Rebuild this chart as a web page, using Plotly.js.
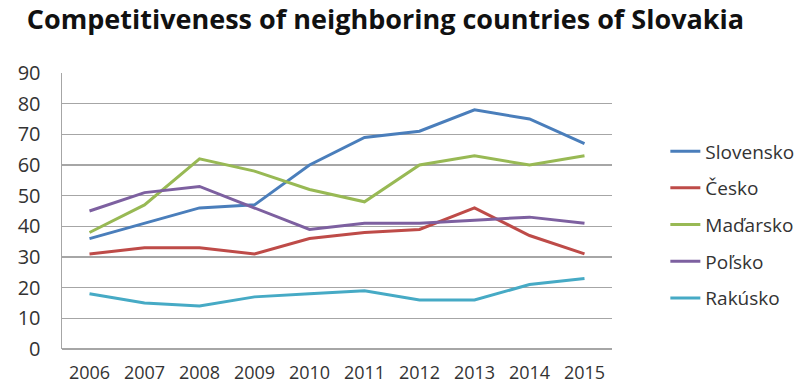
<!DOCTYPE html>
<html>
<head>
<meta charset="utf-8">
<script src="https://cdn.plot.ly/plotly-3.0.1.min.js"></script>
<style>html,body{margin:0;padding:0;background:#fff;}#chart{width:811px;height:383px;}</style>
</head>
<body>
<div id="chart"></div>
<script>
const years = ["2006","2007","2008","2009","2010","2011","2012","2013","2014","2015"];
const seriesNames = ["Slovensko","Česko","Maďarsko","Poľsko","Rakúsko"];
const slovensko = [36, 41, 46, 47, 60, 69, 71, 78, 75, 67];
const cesko     = [31, 33, 33, 31, 36, 38, 39, 46, 37, 31];
const madarsko  = [38, 47, 62, 58, 52, 48, 60, 63, 60, 63];
const polsko    = [45, 51, 53, 46, 39, 41, 41, 42, 43, 41];
const rakusko   = [18, 15, 14, 17, 18, 19, 16, 16, 21, 23];
const yTicks = [0,10,20,30,40,50,60,70,80,90];

const colors = ["#4a7ebb","#be4b48","#98b954","#7d60a0","#46aac5"];
const values = [slovensko, cesko, madarsko, polsko, rakusko];

const traces = values.map((v,i)=>({
  type:"scatter", mode:"lines", x:years, y:v, name:seriesNames[i],
  legendgroup:"g"+i,
  line:{color:colors[i], width:3}
}));

const layout = {
  width:811, height:383,
  margin:{l:62, r:183, t:73, b:34},
  paper_bgcolor:"#fff", plot_bgcolor:"#fff",
  font:{family:"Open Sans, sans-serif", color:"#333", size:15},
  title:{text:"<b>Competitiveness of neighboring countries of Slovakia</b>",
         font:{family:"Open Sans, sans-serif", size:27, color:"#111"},
         x:0.033, xanchor:"left", y:0.948, yanchor:"middle"},
  xaxis:{type:"category", range:[-0.5,9.5], showgrid:false, zeroline:false,
         showline:false, ticks:"", tickfont:{size:18,color:"#333"}, ticklabelstandoff:11, fixedrange:true},
  yaxis:{range:[0,90], tickvals:yTicks, showgrid:true, gridcolor:"#a6a6a6", gridwidth:1.5,
         zeroline:true, zerolinecolor:"#a6a6a6", zerolinewidth:1.5,
         showline:true, linecolor:"#a6a6a6", linewidth:1.5, ticks:"",
         tickfont:{size:20,color:"#333"}, ticklabelstandoff:16, fixedrange:true},
  showlegend:true,
  legend:{x:1.097, xanchor:"left", y:0.45, yanchor:"middle",
          font:{size:19,color:"#333"}, tracegroupgap:9, bgcolor:"rgba(0,0,0,0)"}
};

Plotly.newPlot("chart", traces, layout, {displayModeBar:false, staticPlot:true});
</script>
</body>
</html>
